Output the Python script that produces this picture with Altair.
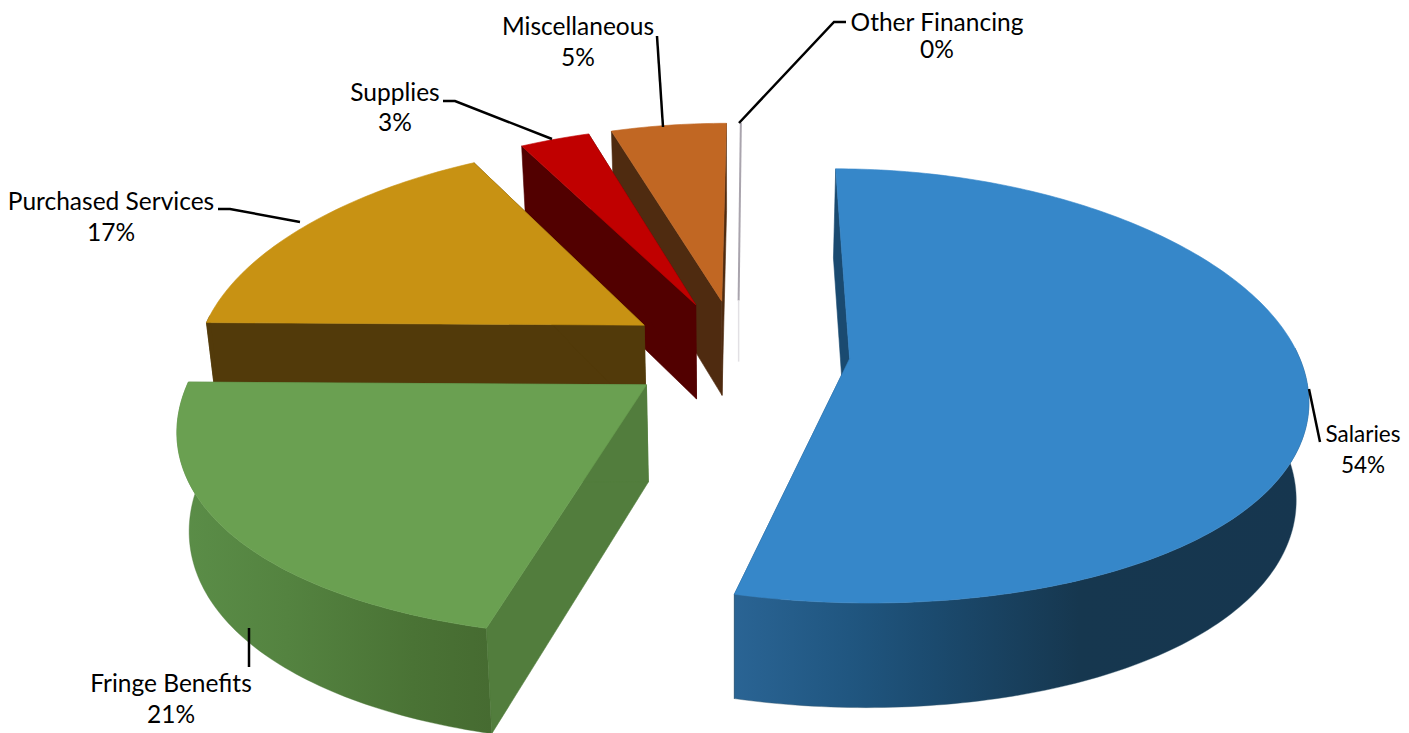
import math
import altair as alt
import pandas as pd

# data
categories = ["Salaries", "Fringe Benefits", "Purchased Services", "Supplies", "Miscellaneous", "Other Financing"]
shares = [54.0, 21.2, 16.8, 3.0, 5.0, 0.0]
top_colors = ["#3687c9", "#6aa051", "#c89213", "#c00000", "#c16723", "#a9a4ad"]
side_colors = ["#1a4a70", "#527d3d", "#523a0a", "#520000", "#4f2b10", "#a9a4ad"]
wall_stops = {
    "Salaries": [("#2a6494", 0), ("#205680", .2), ("#1b4a6e", .35), ("#16374f", .6), ("#16364f", 1)],
    "Fringe Benefits": [("#5b8e48", 0), ("#548340", .35), ("#4a7335", .75), ("#466b31", 1)],
}

# pie projection
EXPLODE = 0.25
RX, RY = 448, 212
PERSP_X, PERSP_X2, PERSP_Y, PERSP_D = 0.16, 0.01, 0.125, 0.08
OFFSET_X, CY, VX = -16, 352, 754
DEPTH, TAPER, TAPER_X = 96, 0.978, 734
BACK_TO_FRONT = [5, 4, 3, 2, 1, 0]


def project(u, v, drop=False):
    x = VX + (OFFSET_X + RX * u) / (1 + PERSP_X * v + PERSP_X2 * v * abs(v))
    y = CY - RY * v / (1 + PERSP_Y * v)
    if drop:
        x = TAPER_X + (x - TAPER_X) * TAPER
        y = y + DEPTH / (1 + PERSP_D * v)
    return x, y


edges = [0]
for s in shares:
    edges.append(edges[-1] + s / sum(shares) * 2 * math.pi)

X = alt.X("x:Q", scale=alt.Scale(domain=[8, 1401], nice=False, zero=False), axis=None)
Y = alt.Y("y:Q", scale=alt.Scale(domain=[733, 8], nice=False, zero=False), axis=None)


def poly(points, fill, stroke=None, sw=0.6):
    df = pd.DataFrame([{"x": p[0], "y": p[1], "i": i} for i, p in enumerate(points + points[:1])])
    return alt.Chart(df).mark_line(fill=fill, stroke=stroke or (fill if isinstance(fill, str) else "#888888"),
                                   strokeWidth=sw).encode(x=X, y=Y, order="i:Q")


def seg(points, color="#000000", sw=2.5):
    df = pd.DataFrame([{"x": p[0], "y": p[1], "i": i} for i, p in enumerate(points)])
    return alt.Chart(df).mark_line(stroke=color, strokeWidth=sw).encode(x=X, y=Y, order="i:Q")


layers = []
for k in BACK_TO_FRONT:
    a0, a1 = edges[k], edges[k + 1]
    mid = (a0 + a1) / 2
    cu, cv = EXPLODE * math.sin(mid), EXPLODE * math.cos(mid)
    n = max(2, int((a1 - a0) * 60))
    angs = [a0 + (a1 - a0) * i / n for i in range(n + 1)]
    rim = [(cu + math.sin(t), cv + math.cos(t)) for t in angs]
    if shares[k] == 0:
        r = project(*rim[0])
        c = project(cu, cv)
        layers.append(seg([r, c], top_colors[k], 2))
        layers.append(seg([c, (c[0], c[1] + 61)], "#e2e0e4", 1.5))
        continue
    # radial faces
    for rp in (rim[0], rim[-1]):
        layers.append(poly([project(*rp), project(cu, cv), project(cu, cv, True), project(*rp, True)],
                           side_colors[k]))
    # outer wall (front part only)
    front = [p for p, t in zip(rim, angs) if math.cos(t) < 0.05]
    if front:
        pts = [project(*p) for p in front] + [project(*p, True) for p in reversed(front)]
        if categories[k] in wall_stops:
            fill = alt.LinearGradient(gradient="linear", x1=0, x2=1, y1=0, y2=0,
                                      stops=[alt.GradientStop(color=c, offset=o) for c, o in wall_stops[categories[k]]])
            layers.append(poly(pts, fill, stroke="#3a5a70" if k == 0 else "#4e7a3a", sw=0.4))
        else:
            layers.append(poly(pts, side_colors[k]))
    # top
    layers.append(poly([project(cu, cv)] + [project(*p) for p in rim], top_colors[k]))

# leaders
leaders = [
    [(1309, 389), (1320, 442)],
    [(249, 628), (249, 667)],
    [(300, 222), (230, 209), (218, 209)],
    [(552, 139), (455, 101), (443, 101)],
    [(663, 127), (657, 36)],
    [(739, 123), (834, 22), (846, 22)],
]
for l in leaders:
    layers.append(seg(l))

# labels
label_x = [1363, 171, 111, 395, 578, 937]
label_y = [435, 685, 203, 94, 28, 24]
label_y2 = [466, 716, 234, 124, 59, 51]
label_size = [22.5, 24.5, 24.5, 24.5, 24.5, 24.5]
rows = []
for c, s, x, y, y2, fs in zip(categories, shares, label_x, label_y, label_y2, label_size):
    rows.append({"x": x, "y": y, "t": c, "s": fs})
    rows.append({"x": x, "y": y2, "t": f"{round(s)}%", "s": fs})
layers.append(alt.Chart(pd.DataFrame(rows)).mark_text(font="Lato", color="#000000", align="center",
                                                     baseline="middle").encode(
    x=X, y=Y, text="t:N", size=alt.Size("s:Q", scale=None)))

chart = alt.layer(*layers).properties(
    width=1393, height=725, padding=0, autosize=alt.AutoSizeParams(type="none"), background="#ffffff"
).configure_view(stroke=None)
chart.save("out.html", embed_options={"renderer": "svg", "actions": False})
